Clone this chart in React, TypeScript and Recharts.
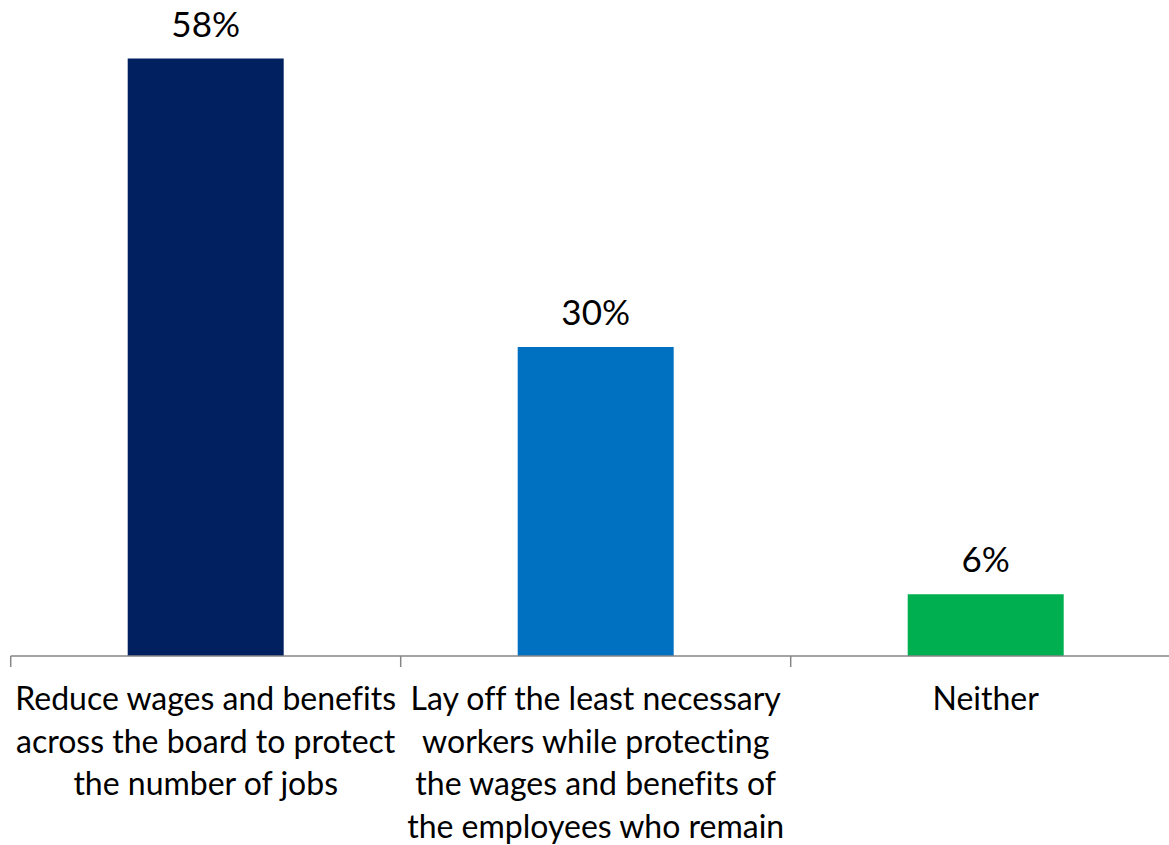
import React from 'react';
import { BarChart, Bar, XAxis, YAxis, Cell, LabelList } from 'recharts';

const categories = [
  'Reduce wages and benefits across the board to protect the number of jobs',
  'Lay off the least necessary workers while protecting the wages and benefits of the employees who remain',
  'Neither',
];
const categoryLines: string[][] = [
  ['Reduce wages and benefits', 'across the board to protect', 'the number of jobs'],
  ['Lay off the least necessary', 'workers while protecting', 'the wages and benefits of', 'the employees who remain'],
  ['Neither'],
];
const values = [58, 30, 6];
const colors = ['#002060', '#0070C0', '#00B050'];

const data = categories.map((c, i) => ({ name: c, value: values[i], idx: i }));

const FONT = 'Lato, "Open Sans", sans-serif';
const CHART_W = 1200;
const CHART_H = 845;
const M_LEFT = 10.7;
const M_RIGHT = CHART_W - 1180.7;
const HALF_BAND = (CHART_W - M_LEFT - M_RIGHT) / categories.length / 2;

const Tick = (props: any) => {
  const { x, y, payload, index } = props;
  const i0 = payload.index ?? index;
  const lines = categoryLines[i0] || [String(payload.value)];
  return (
    <g>
      <line x1={x - HALF_BAND} x2={x - HALF_BAND} y1={y - 8} y2={y + 3} stroke="#868686" strokeWidth={1.5} />
      {i0 === categories.length - 1 && (
        <line x1={x + HALF_BAND} x2={x + HALF_BAND} y1={y - 8} y2={y + 3} stroke="#868686" strokeWidth={1.5} />
      )}
      <text textAnchor="middle" fontFamily={FONT} fontSize={32} fill="#000" style={{ fontVariantLigatures: 'none' }}>
        {lines.map((l, i) => (
          <tspan key={i} x={x} y={y + 46 + i * 42.5}>{l}</tspan>
        ))}
      </text>
    </g>
  );
};

const ValueLabel = (props: any) => {
  const { x, y, width, value } = props;
  return (
    <text x={x + width / 2} y={y - 22} textAnchor="middle" fontFamily={FONT} fontSize={35} fill="#000">
      {value}%
    </text>
  );
};

export default function App() {
  return (
    <div style={{ position: 'absolute', left: 0, top: 0, width: 1169, height: 845, overflow: 'hidden', background: '#fff' }}>
      <BarChart
        width={CHART_W}
        height={CHART_H}
        data={data}
        margin={{ top: 38, right: M_RIGHT, bottom: 39, left: M_LEFT }}
        barCategoryGap="30%"
      >
        <YAxis hide domain={[0, 60]} />
        <XAxis
          dataKey="name"
          height={150}
          axisLine={{ stroke: '#868686', strokeWidth: 1.5 }}
          tickLine={false}
          tick={<Tick />}
          interval={0}
        />
        <Bar dataKey="value" isAnimationActive={false}>
          {data.map((d, i) => (
            <Cell key={i} fill={colors[i]} />
          ))}
          <LabelList dataKey="value" content={<ValueLabel />} />
        </Bar>
      </BarChart>
    </div>
  );
}
